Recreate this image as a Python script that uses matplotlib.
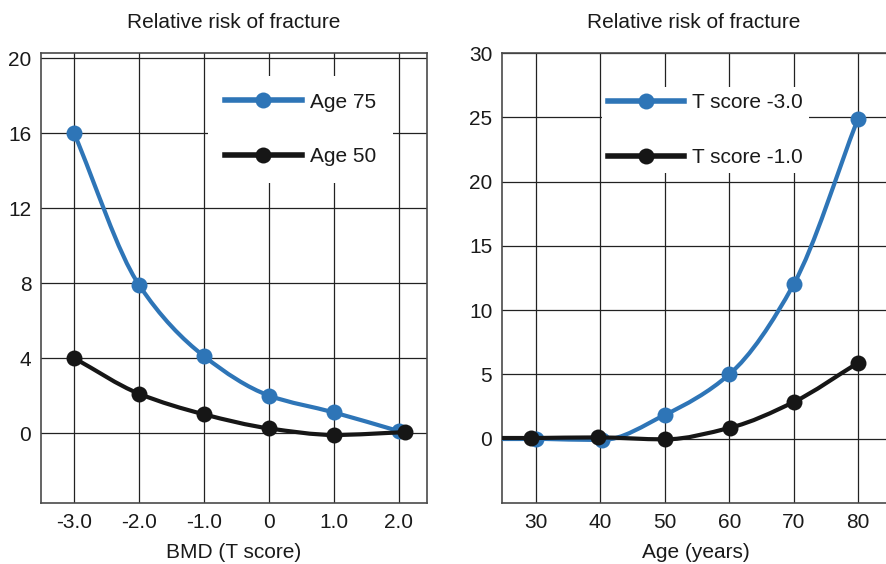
import matplotlib
matplotlib.use("Agg")
import matplotlib.pyplot as plt
from matplotlib.path import Path
from matplotlib.patches import PathPatch
from matplotlib.lines import Line2D

plt.rcParams['font.family'] = ['Liberation Sans', 'DejaVu Sans']

# ---------------- data ----------------
title = "Relative risk of fracture"

bmd_ticks = [-3.0, -2.0, -1.0, 0.0, 1.0, 2.0]
bmd_labels = ["-3.0", "-2.0", "-1.0", "0", "1.0", "2.0"]
rr_ticks_left = [0, 4, 8, 12, 16, 20]

age75_x = [-3.0, -2.0, -1.0, 0.0, 1.0, 2.0]
age75_rr = [16.0, 7.9, 4.1, 2.0, 1.1, 0.1]
age50_x = [-3.0, -2.0, -1.0, 0.0, 1.0, 2.1]
age50_rr = [4.0, 2.1, 1.0, 0.25, -0.1, 0.05]

age_ticks = [30, 40, 50, 60, 70, 80]
rr_ticks_right = [0, 5, 10, 15, 20, 25, 30]

tm3_x = [30.0, 40.2, 50.0, 60.0, 70.0, 80.0]
tm3_rr = [0.0, -0.1, 1.85, 5.0, 12.0, 24.9]
tm1_x = [29.2, 39.6, 50.0, 60.1, 70.0, 80.0]
tm1_rr = [0.05, 0.1, -0.05, 0.85, 2.85, 5.9]

labels_left = ["Age 75", "Age 50"]
labels_right = ["T score -3.0", "T score -1.0"]

BLUE = "#2e75b7"
BLACK = "#161616"
TXT = "#1a1a1a"
FS = 15
LW = 3.0
MS = 11.5


def smooth_path(xs, ys):
    """Monotone cubic (Fritsch-Carlson) curve through the points as Bezier path."""
    n = len(xs)
    h = [xs[i + 1] - xs[i] for i in range(n - 1)]
    d = [(ys[i + 1] - ys[i]) / h[i] for i in range(n - 1)]
    m = [0.0] * n
    m[0] = d[0]
    m[-1] = d[-1]
    for k in range(1, n - 1):
        if d[k - 1] * d[k] <= 0:
            m[k] = 0.0
        else:
            w1 = 2 * h[k] + h[k - 1]
            w2 = h[k] + 2 * h[k - 1]
            m[k] = (w1 + w2) / (w1 / d[k - 1] + w2 / d[k])
    verts = [(xs[0], ys[0])]
    codes = [Path.MOVETO]
    for i in range(n - 1):
        verts += [(xs[i] + h[i] / 3, ys[i] + m[i] * h[i] / 3),
                  (xs[i + 1] - h[i] / 3, ys[i + 1] - m[i + 1] * h[i] / 3),
                  (xs[i + 1], ys[i + 1])]
        codes += [Path.CURVE4] * 3
    return Path(verts, codes)


def draw_series(ax, xs, ys, color, z):
    ax.add_patch(PathPatch(smooth_path(xs, ys), fill=False, edgecolor=color,
                           lw=LW, capstyle='butt', joinstyle='round', zorder=z))
    ax.plot(xs, ys, linestyle='none', marker='o', ms=MS, color=color,
            markeredgewidth=0, zorder=z + 0.5)


def style_axes(ax):
    ax.grid(True, color="#222222", lw=0.9)
    ax.set_axisbelow(True)
    for s in ax.spines.values():
        s.set_color("#4a4a4a")
        s.set_linewidth(1.2)
    ax.tick_params(length=0, labelsize=FS, colors=TXT, pad=7)
    ax.tick_params(axis='y', pad=7)


fig = plt.figure(figsize=(8.86, 5.64), dpi=100)
W, H = 886, 564

# ---------------- left panel ----------------
axL = fig.add_axes([41 / W, 1 - 503 / H, (427 - 41) / W, (503 - 53) / H])
style_axes(axL)
axL.set_xlim(-3.508, 2.431)
axL.set_ylim(-3.73, 20.27)
axL.set_xticks(bmd_ticks)
axL.set_xticklabels(bmd_labels)
axL.set_yticks(rr_ticks_left)
draw_series(axL, age75_x, age75_rr, BLUE, 3)
draw_series(axL, age50_x, age50_rr, BLACK, 4)
axL.set_xlabel("BMD (T score)", fontsize=FS, color=TXT, labelpad=8)
fig.text((41 + 427) / 2 / W, 1 - 22 / H, title, fontsize=FS, color=TXT,
         ha='center', va='center')

hL = [Line2D([], [], color=BLUE, lw=LW + 1, marker='o', ms=MS, markeredgewidth=0),
      Line2D([], [], color=BLACK, lw=LW + 1, marker='o', ms=MS, markeredgewidth=0)]
legL = axL.legend(hL, labels_left, loc='upper left',
                  bbox_to_anchor=((208 - 41) / 386, 1 - (76 - 53) / 450),
                  borderaxespad=0, borderpad=0.8, frameon=True, fancybox=False,
                  facecolor='white', edgecolor='none', framealpha=1,
                  fontsize=FS, handlelength=3.7, handletextpad=0.38,
                  labelspacing=1.72, numpoints=1)
for t in legL.get_texts():
    t.set_color(TXT)

# ---------------- right panel ----------------
axR = fig.add_axes([502 / W, 1 - 503 / H, (890 - 502) / W, (503 - 53) / H])
style_axes(axR)
axR.spines['right'].set_visible(False)
x0 = 24.72
axR.set_xlim(x0, x0 + (890 - 502) / 6.44)
axR.set_ylim(-5, 30)
axR.set_xticks(age_ticks)
axR.set_yticks(rr_ticks_right)
draw_series(axR, tm3_x, tm3_rr, BLUE, 3)
draw_series(axR, tm1_x, tm1_rr, BLACK, 4)
# lines run in from the left edge of the panel
axR.add_patch(PathPatch(Path([(x0 - 1, tm3_rr[0]), (tm3_x[0], tm3_rr[0])]),
                        fill=False, edgecolor=BLUE, lw=LW, zorder=3))
axR.add_patch(PathPatch(Path([(x0 - 1, tm1_rr[0]), (tm1_x[0], tm1_rr[0])]),
                        fill=False, edgecolor=BLACK, lw=LW, zorder=4))
axR.set_xlabel("Age (years)", fontsize=FS, color=TXT, labelpad=8)
fig.text((502 + 886) / 2 / W, 1 - 22 / H, title, fontsize=FS, color=TXT,
         ha='center', va='center')

hR = [Line2D([], [], color=BLUE, lw=LW + 1, marker='o', ms=MS, markeredgewidth=0),
      Line2D([], [], color=BLACK, lw=LW + 1, marker='o', ms=MS, markeredgewidth=0)]
legR = axR.legend(hR, labels_right, loc='upper left',
                  bbox_to_anchor=((602 - 502) / 388, 1 - (87 - 53) / 450),
                  borderaxespad=0, borderpad=0.3, frameon=True, fancybox=False,
                  facecolor='white', edgecolor='none', framealpha=1,
                  fontsize=FS, handlelength=3.65, handletextpad=0.38,
                  labelspacing=1.72, numpoints=1)
for t in legR.get_texts():
    t.set_color(TXT)

fig.savefig("out.png", dpi=100)
